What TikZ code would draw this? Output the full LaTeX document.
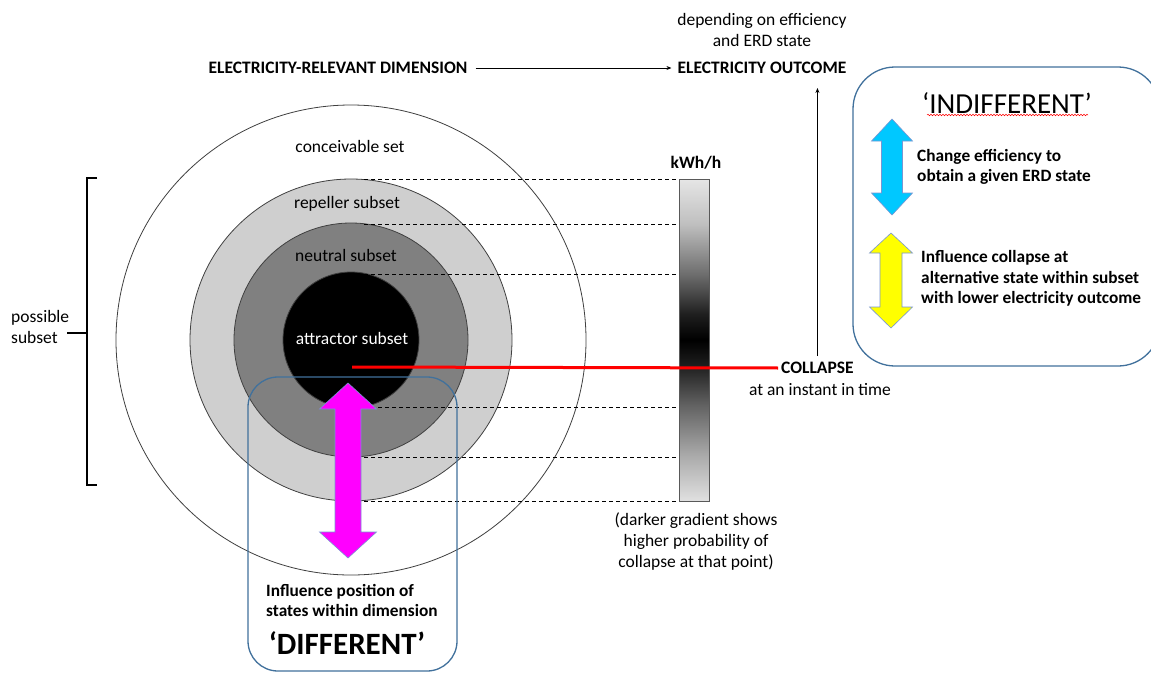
\documentclass[tikz,border=0pt]{standalone}
\usepackage{fontspec}
\setmainfont{Carlito}
\usetikzlibrary{arrows.meta,decorations.pathmorphing}

\definecolor{boxblue}{RGB}{65,113,156}
\definecolor{arrowedge}{RGB}{120,150,210}
\definecolor{skyfill}{RGB}{0,200,255}
\definecolor{pinkfill}{RGB}{255,0,255}
\definecolor{lemon}{RGB}{255,255,0}

\pgfdeclareverticalshading{kwh}{100bp}{color(0bp)=(black!12); color(25bp)=(black!12); color(32bp)=(black!33); color(40bp)=(black!62); color(46bp)=(black!88); color(50bp)=(black); color(54bp)=(black!88); color(60bp)=(black!58); color(68bp)=(black!25); color(75bp)=(black!10); color(100bp)=(black!10)}

\tikzset{
  lbl/.style={inner sep=0pt, align=center, font=\fontsize{17.5}{21}\selectfont},
  blbl/.style={lbl, font=\fontsize{17.5}{21}\selectfont\bfseries},
  sidetxt/.style={inner sep=0pt, align=left, font=\fontsize{17.3}{20.5}\selectfont\bfseries},
  ring/.style={draw=black!75, line width=0.8pt},
  frame/.style={draw=boxblue, line width=1.3pt},
  updown/.style={draw=arrowedge, line width=0.6pt},
  guide/.style={dashed, dash pattern=on 4pt off 3pt, line width=0.8pt}
}

\begin{document}
\begin{tikzpicture}[x=1pt, y=-1pt]
  \useasboundingbox (0,0) rectangle (1151,673);
  \fill[white] (0,0) rectangle (1151,673);
  \clip (0,0) rectangle (1151,673);

  \coordinate (ctr) at (351,340);
  \filldraw[ring, fill=white] (ctr) circle (235pt);
  \filldraw[ring, fill=black!19] (ctr) circle (161pt);
  \filldraw[ring, fill=black!50] (ctr) circle (117pt);
  \filldraw[ring, fill=black] (ctr) circle (68pt);

  \node[lbl] (conc) at (350,146) {conceivable set};
  \node[lbl] (rep) at (347,204) {repeller subset};
  \node[lbl] (neu) at (346,255) {neutral subset};
  \node[lbl, text=white] (att) at (352,338) {attractor subset};

  \node[draw=black!65, line width=0.8pt, shading=kwh, minimum width=30pt, minimum height=322pt, inner sep=0pt] (bar) at (694,340) {};
  \node[blbl] (unit) at (696,163) {kWh/h};
  \foreach \y in {179,224,274,407,457,501}
    \draw[guide] (364,\y) -- (bar.west |- 0,\y);

  \node[blbl] (dim) at (338,68) {ELECTRICITY-RELEVANT DIMENSION};
  \node[blbl] (out) at (762,68) {ELECTRICITY OUTCOME};
  \node[lbl] (dep) at (762,30) {depending on efficiency\\and ERD state};
  \draw[-{Stealth[length=5pt,width=4pt]}, line width=0.7pt, shorten <=8pt, shorten >=6pt] (dim.east) -- (out.west);

  \node[blbl, anchor=west] (coll) at (781,368) {COLLAPSE};
  \node[lbl] (inst) at (820,390) {at an instant in time};
  \coordinate (up) at (819,88);
  \draw[-{Stealth[length=5pt,width=4pt]}, line width=0.7pt, shorten <=6pt] (coll.north) -- (coll.north |- up);
  \coordinate (hit) at (352,367);
  \draw[red, line width=3pt, shorten >=3pt] (hit) -- (coll.west);

  \node[lbl] (note) at (696,542) {(darker gradient shows\\higher probability of\\collapse at that point)};

  \node[lbl, align=left, anchor=west] (psub) at (11,327) {possible\\subset};
  \draw[line width=1.2pt] (97,178) -- (87,178) -- (87,485) -- (97,485);
  \coordinate (brk) at (87,333);
  \draw[line width=1.2pt] (67,333) -- (brk);

  \draw[frame, rounded corners=30pt] (248,377) rectangle (457,671);
  \draw[updown, fill=pinkfill] (348,383) -- (376.5,409) -- (361,409) -- (361,532) -- (376.5,532) -- (348,558) -- (319.5,532) -- (335,532) -- (335,409) -- (319.5,409) -- cycle;
  \node[sidetxt, anchor=west] (infl) at (266,600.5) {Influence position of\\states within dimension};
  \node[inner sep=0pt, font=\fontsize{31}{36}\selectfont\bfseries] (diff) at (347,643) {‘DIFFERENT’};

  \draw[frame, rounded corners=42pt] (853,67) rectangle (1160,366);
  \node[inner sep=0pt, font=\fontsize{29}{34}\selectfont] (indiff) at (1007,103) {‘INDIFFERENT’};
  \draw[red, line width=0.5pt, decorate, decoration={snake, amplitude=0.8pt, segment length=3pt}] (927,115) -- (1088,115);
  \draw[updown, fill=skyfill] (892,119) -- (912.5,141) -- (902.5,141) -- (902.5,193) -- (912.5,193) -- (892,215) -- (871.5,193) -- (881.5,193) -- (881.5,141) -- (871.5,141) -- cycle;
  \node[sidetxt, anchor=west] (eff) at (917,167) {Change efficiency to\\obtain a given ERD state};
  \draw[updown, fill=lemon] (891,233) -- (912.5,253) -- (902,253) -- (902,307) -- (912.5,307) -- (891,328) -- (869.5,307) -- (880,307) -- (880,253) -- (869.5,253) -- cycle;
  \node[sidetxt, anchor=west] (alt) at (921,278.5) {Influence collapse at\\alternative state within subset\\with lower electricity outcome};
\end{tikzpicture}
\end{document}
